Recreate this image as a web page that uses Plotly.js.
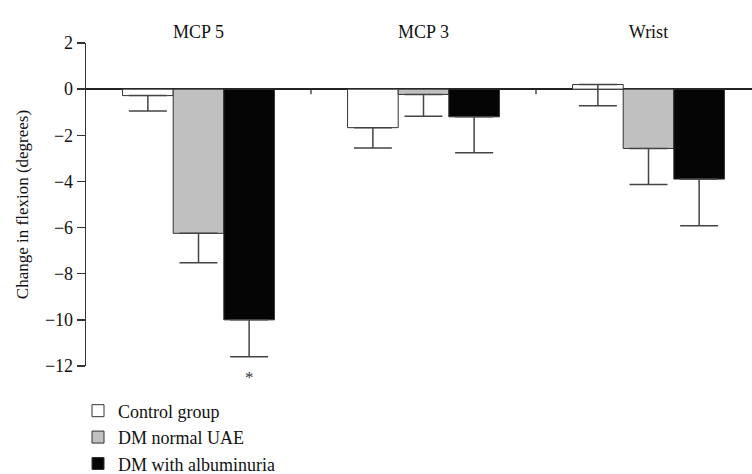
<!DOCTYPE html>
<html>
<head>
<meta charset="utf-8">
<script src="https://cdn.plot.ly/plotly-3.0.1.min.js"></script>
<style>html,body{margin:0;padding:0;background:#fff;}#chart{width:752px;height:474px;}</style>
</head>
<body>
<div id="chart"></div>
<script>
const categories = ["MCP 5", "MCP 3", "Wrist"];
const seriesNames = ["Control group", "DM normal UAE", "DM with albuminuria"];
const controlMean = [-0.28, -1.67, 0.2];
const controlErrPlus = [0, 0, 0];
const controlErrMinus = [0.67, 0.88, 0.92];
const normalMean = [-6.25, -0.23, -2.57];
const normalErrMinus = [1.27, 0.95, 1.56];
const albMean = [-10.0, -1.2, -3.9];
const albErrMinus = [1.6, 1.56, 2.02];
const yTicks = [2, 0, -2, -4, -6, -8, -10, -12];
const sigLabel = "*";

const FONT = "'Liberation Serif', serif";
const lineCol = "#333";
const bargap = 0.325;

function err(plus, minus) {
  return {type: "data", symmetric: false, array: plus, arrayminus: minus,
          color: "#444", thickness: 1.5, width: 19};
}
const zeros = [0, 0, 0];

const traces = [
  {type: "bar", name: seriesNames[0], x: categories, y: controlMean,
   marker: {color: "#ffffff", line: {color: lineCol, width: 1}},
   error_y: err(controlErrPlus, controlErrMinus)},
  {type: "bar", name: seriesNames[1], x: categories, y: normalMean,
   marker: {color: "#c0c0c0", line: {color: lineCol, width: 1}},
   error_y: err(zeros, normalErrMinus)},
  {type: "bar", name: seriesNames[2], x: categories, y: albMean,
   marker: {color: "#050505", line: {color: lineCol, width: 1}},
   error_y: err(zeros, albErrMinus)}
];

const layout = {
  width: 752, height: 474,
  margin: {l: 86, r: 0, t: 43, b: 108, autoexpand: false},
  paper_bgcolor: "#fff", plot_bgcolor: "#fff",
  font: {family: FONT, size: 18, color: "#111"},
  barmode: "group", bargap: bargap, bargroupgap: 0,
  showlegend: true,
  legend: {x: -0.012, y: -0.082, xanchor: "left", yanchor: "top",
           font: {family: FONT, size: 18, color: "#111"},
           tracegroupgap: 0, bgcolor: "rgba(0,0,0,0)"},
  xaxis: {type: "category", side: "top", range: [-0.5, 2.46],
          showline: false, showgrid: false, zeroline: false,
          ticks: "", tickfont: {family: FONT, size: 18, color: "#111"},
          fixedrange: true},
  yaxis: {range: [-12, 2], tickvals: yTicks, ticktext: yTicks.map(v => v < 0 ? "\u2212" + Math.abs(v) : String(v)),
          showline: true, linecolor: lineCol, linewidth: 1.3,
          ticks: "outside", ticklen: 8, tickcolor: lineCol, tickwidth: 1.3,
          showgrid: false, zeroline: true, zerolinecolor: "#222", zerolinewidth: 1.5,
          tickfont: {family: FONT, size: 18, color: "#111"},
          title: {text: "Change in flexion (degrees)", font: {family: FONT, size: 17, color: "#111"}, standoff: 12},
          fixedrange: true},
  shapes: [0.5, 1.5].map(xv => ({type: "line", xref: "x", yref: "y", ysizemode: "pixel", yanchor: 0,
          x0: xv, x1: xv, y0: 0, y1: -5, line: {color: lineCol, width: 1.3}})),
  annotations: [{xref: "x", yref: "y", x: 0 + (1 - bargap) / 3, y: -12, text: sigLabel,
                 showarrow: false, yanchor: "top", yshift: 0,
                 font: {family: FONT, size: 17, color: "#333"}}]
};

Plotly.newPlot("chart", traces, layout, {displayModeBar: false, staticPlot: true});
</script>
</body>
</html>
